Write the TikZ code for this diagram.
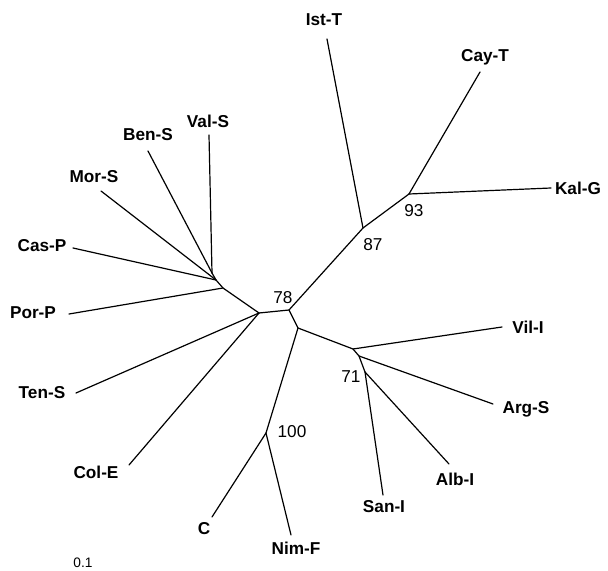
\documentclass[tikz,border=0pt]{standalone}
\usepackage{fontspec}
\setmainfont{Liberation Sans}
\usetikzlibrary{positioning}

\tikzset{
  branch/.style={draw=black, line width=0.9pt, line cap=round, line join=round},
  taxon/.style={inner sep=0.75pt, font=\fontsize{12.9}{15}\selectfont\bfseries},
  boot/.style={inner sep=0.75pt, font=\fontsize{12.9}{15}\selectfont},
}

\begin{document}
\begin{tikzpicture}[x=0.75pt,y=0.75pt,yscale=-1,xscale=1]
\useasboundingbox (0,0) rectangle (608,571);
%Internal nodes
\coordinate (nA) at (259,313);
\coordinate (nB) at (289,310);
\coordinate (nK) at (298,328);
\coordinate (nG) at (223,288);
\coordinate (nH) at (216,280);
\coordinate (nI) at (212,273);
\coordinate (nM) at (363,228);
\coordinate (nN) at (409,194);
\coordinate (nD) at (353,349);
\coordinate (nE) at (359,356);
\coordinate (nF) at (365,372);
\coordinate (nL) at (266,433);
%Leaf tips
\coordinate (valS) at (209,135);
\coordinate (benS) at (148,151);
\coordinate (morS) at (101,191);
\coordinate (casP) at (73,248);
\coordinate (porP) at (69,314);
\coordinate (tenS) at (76,393);
\coordinate (colE) at (129,465);
\coordinate (cC) at (212,517);
\coordinate (nimF) at (291,535);
\coordinate (sanI) at (383,495);
\coordinate (albI) at (449,464);
\coordinate (argS) at (493,404);
\coordinate (vilI) at (502,327);
\coordinate (kalG) at (551,188);
\coordinate (cayT) at (480,72);
\coordinate (istT) at (327,39);

%Straight Lines: backbone
\draw [branch] (nA) -- (nB) -- (nK) -- (nD) -- (nE) -- (nF);
\draw [branch] (nB) -- (nM) -- (nN);
\draw [branch] (nK) -- (nL);
\draw [branch] (nA) -- (nG) -- (nH) -- (nI);
%Straight Lines: leaves
\draw [branch] (nI) -- (valS);
\draw [branch] (nI) -- (benS);
\draw [branch] (nH) -- (morS);
\draw [branch] (nH) -- (casP);
\draw [branch] (nG) -- (porP);
\draw [branch] (nA) -- (tenS);
\draw [branch] (nA) -- (colE);
\draw [branch] (nL) -- (cC);
\draw [branch] (nL) -- (nimF);
\draw [branch] (nF) -- (sanI);
\draw [branch] (nF) -- (albI);
\draw [branch] (nE) -- (argS);
\draw [branch] (nD) -- (vilI);
\draw [branch] (nN) -- (kalG);
\draw [branch] (nN) -- (cayT);
\draw [branch] (nM) -- (istT);

% Text Node
\node [taxon] (valSl) at (208,121) {Val-S};
\node [taxon] (benSl) at (148,135) {Ben-S};
\node [taxon] (morSl) at (94,177) {Mor-S};
\node [taxon] (casPl) at (42,246) {Cas-P};
\node [taxon] (porPl) at (33,313) {Por-P};
\node [taxon] (tenSl) at (42,393) {Ten-S};
\node [taxon] (colEl) at (96,472) {Col-E};
\node [taxon] (cCl) at (204,529) {C};
\node [taxon] (nimFl) at (296,548) {Nim-F};
\node [taxon] (sanIl) at (384,507) {San-I};
\node [taxon] (albIl) at (455,479) {Alb-I};
\node [taxon] (argSl) at (526,409) {Arg-S};
\node [taxon] (vilIl) at (528,327) {Vil-I};
\node [taxon] (kalGl) at (578,188) {Kal-G};
\node [taxon] (cayTl) at (485,57) {Cay-T};
\node [taxon] (istTl) at (324,20) {Ist-T};
% Text Node: bootstrap values
\node [boot] (b78) at (283,298) {78};
\node [boot] (b87) at (373,245) {87};
\node [boot] (b93) at (414,211) {93};
\node [boot] (b71) at (351,377) {71};
\node [boot] (b100) at (292,432) {100};
% Text Node: scale
\node [boot, font=\fontsize{10.3}{12}\selectfont] (scale) at (83,563) {0.1};
\end{tikzpicture}
\end{document}
